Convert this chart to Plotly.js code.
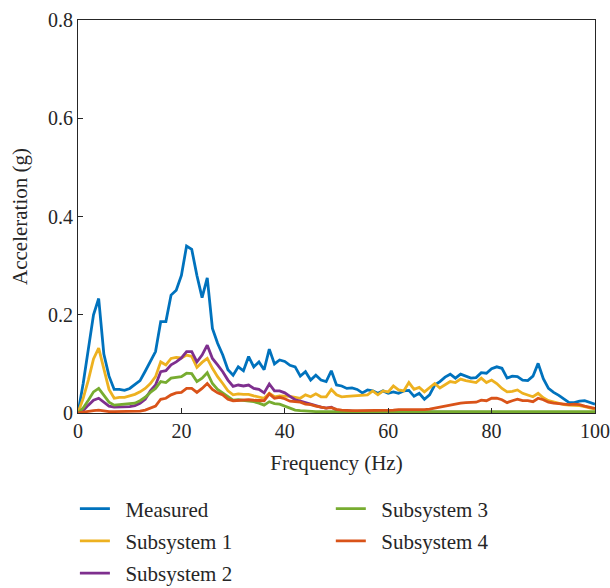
<!DOCTYPE html>
<html>
<head>
<meta charset="utf-8">
<script src="https://cdn.plot.ly/plotly-3.0.1.min.js"></script>
<style>html,body{margin:0;padding:0;background:#fff;}#chart{width:610px;height:588px;}</style>
</head>
<body>
<div id="chart"></div>
<script>
// Frequency axis (Hz), 1 Hz steps 0..100
const freq = Array.from({length: 101}, (_, i) => i);

const measured = [0,0.06,0.13,0.20,0.233,0.12,0.075,0.048,0.048,0.046,
0.050,0.058,0.066,0.085,0.105,0.125,0.186,0.186,0.24,0.25,
0.28,0.34,0.333,0.28,0.235,0.275,0.172,0.142,0.118,0.088,
0.077,0.094,0.086,0.115,0.094,0.104,0.088,0.13,0.10,0.108,
0.105,0.097,0.094,0.075,0.084,0.067,0.077,0.067,0.064,0.086,
0.057,0.055,0.050,0.051,0.048,0.041,0.047,0.045,0.040,0.045,
0.040,0.043,0.040,0.045,0.046,0.034,0.040,0.028,0.037,0.057,
0.064,0.073,0.079,0.071,0.079,0.075,0.071,0.072,0.082,0.081,
0.090,0.094,0.091,0.071,0.075,0.074,0.067,0.066,0.075,0.101,
0.070,0.050,0.042,0.036,0.028,0.021,0.021,0.024,0.025,0.021,0.018];

const sub1 = [0,0.03,0.067,0.11,0.132,0.09,0.048,0.030,0.032,0.032,
0.035,0.038,0.043,0.050,0.060,0.074,0.104,0.098,0.111,0.113,
0.112,0.118,0.115,0.093,0.103,0.111,0.091,0.074,0.060,0.045,
0.037,0.039,0.038,0.038,0.035,0.033,0.030,0.040,0.033,0.035,
0.035,0.034,0.032,0.030,0.037,0.033,0.039,0.033,0.033,0.048,
0.037,0.033,0.034,0.035,0.036,0.037,0.037,0.045,0.037,0.045,
0.043,0.055,0.047,0.045,0.062,0.048,0.052,0.043,0.052,0.060,
0.051,0.058,0.064,0.062,0.069,0.066,0.064,0.062,0.071,0.062,
0.067,0.060,0.050,0.043,0.044,0.047,0.040,0.037,0.033,0.040,
0.031,0.025,0.022,0.019,0.017,0.016,0.016,0.015,0.013,0.011,0.008];

const sub2 = [0,0.005,0.016,0.026,0.030,0.021,0.014,0.012,0.012,0.012,
0.013,0.015,0.020,0.028,0.045,0.057,0.084,0.086,0.098,0.104,
0.112,0.125,0.125,0.104,0.118,0.138,0.111,0.098,0.084,0.067,
0.054,0.057,0.055,0.057,0.050,0.048,0.041,0.059,0.045,0.045,
0.041,0.034,0.027,0.024,0.021,0.017,0.014,0.012,0.010,0.012,
0.006,0.005,0.004,0.003,0.002,0.002,0.002,0.002,0.002,0.002,
0.001,0.001,0.001,0.001,0.001,0.001,0.001,0.001,0.001,0.001,
0.001,0.001,0.001,0.001,0.001,0.001,0.001,0.001,0.001,0.001,
0.001,0.001,0.001,0.001,0.001,0.001,0.001,0.001,0.001,0.001,
0.001,0.001,0.001,0.001,0.001,0.001,0.001,0.001,0.001,0.001,0.001];

const sub3 = [0,0.01,0.026,0.043,0.050,0.036,0.022,0.016,0.017,0.017,
0.018,0.020,0.025,0.032,0.042,0.050,0.064,0.062,0.071,0.073,
0.074,0.081,0.080,0.064,0.071,0.082,0.060,0.048,0.041,0.033,
0.026,0.027,0.026,0.025,0.023,0.020,0.016,0.023,0.019,0.018,
0.014,0.009,0.006,0.005,0.004,0.004,0.003,0.003,0.003,0.003,
0.003,0.003,0.003,0.003,0.003,0.003,0.003,0.003,0.003,0.003,
0.003,0.003,0.003,0.003,0.003,0.003,0.003,0.003,0.003,0.003,
0.003,0.003,0.003,0.003,0.003,0.003,0.003,0.003,0.003,0.003,
0.003,0.003,0.003,0.003,0.003,0.003,0.003,0.003,0.003,0.003,
0.003,0.003,0.003,0.003,0.003,0.003,0.003,0.003,0.003,0.003,0.003];

const sub4 = [0,0.002,0.003,0.005,0.006,0.004,0.003,0.003,0.003,0.003,
0.003,0.003,0.004,0.006,0.010,0.014,0.028,0.030,0.037,0.041,
0.042,0.050,0.050,0.042,0.050,0.060,0.048,0.041,0.037,0.028,
0.025,0.026,0.027,0.027,0.026,0.025,0.025,0.039,0.030,0.032,
0.029,0.024,0.023,0.022,0.018,0.017,0.014,0.012,0.010,0.011,
0.0075,0.006,0.005,0.005,0.005,0.005,0.005,0.005,0.006,0.006,
0.006,0.006,0.007,0.007,0.006,0.006,0.006,0.007,0.008,0.010,
0.012,0.015,0.017,0.019,0.020,0.021,0.021,0.022,0.026,0.025,
0.030,0.030,0.027,0.021,0.025,0.028,0.025,0.025,0.023,0.030,
0.027,0.022,0.020,0.019,0.017,0.017,0.018,0.017,0.014,0.012,0.0095];

const seriesNames = ["Measured", "Subsystem 1", "Subsystem 2", "Subsystem 3", "Subsystem 4"];
const xTicks = [0, 20, 40, 60, 80, 100];
const yTicks = [0, 0.2, 0.4, 0.6, 0.8];
const yTickText = ["0", "0.2", "0.4", "0.6", "0.8"];

const colors = ["#0072BD", "#EDB120", "#7E2F8E", "#77AC30", "#D95319"];
const legends = ["legend", "legend", "legend", "legend2", "legend2"];
const dataSets = [measured, sub1, sub2, sub3, sub4];
const PAD = "\u00a0\u00a0"; // extra gap between legend line and label

const traces = dataSets.map((d, i) => ({
  x: freq, y: d, type: "scatter", mode: "lines",
  name: PAD + seriesNames[i],
  line: {color: colors[i], width: 2.8},
  legend: legends[i],
  legendgroup: "g" + i
}));

const FONT = "Liberation Serif";
const axisCol = "#262626";

const legendCommon = {
  orientation: "v", xanchor: "left", yanchor: "top",
  traceorder: "grouped", tracegroupgap: 2,
  font: {family: FONT, size: 21, color: "#262626"},
  bgcolor: "rgba(0,0,0,0)"
};

const layout = {
  width: 610, height: 588,
  margin: {l: 78, r: 15, t: 20, b: 175, autoexpand: false},
  paper_bgcolor: "#fff", plot_bgcolor: "#fff",
  font: {family: FONT, size: 20, color: "#262626"},
  showlegend: true,
  xaxis: {
    range: [0, 100], tickvals: xTicks, ticktext: xTicks.map(String),
    ticks: "inside", ticklen: 5, tickcolor: axisCol, tickwidth: 1,
    showline: true, linecolor: axisCol, linewidth: 1, mirror: true,
    showgrid: false, zeroline: false,
    tickfont: {family: FONT, size: 20, color: "#262626"},
    title: {text: "Frequency (Hz)", font: {family: FONT, size: 21, color: "#262626"}, standoff: 14}
  },
  yaxis: {
    range: [0, 0.8], tickvals: yTicks, ticktext: yTickText,
    ticks: "inside", ticklen: 5, tickcolor: axisCol, tickwidth: 1,
    showline: true, linecolor: axisCol, linewidth: 1, mirror: true,
    showgrid: false, zeroline: false,
    tickfont: {family: FONT, size: 20, color: "#262626"},
    title: {text: "Acceleration (g)", font: {family: FONT, size: 21, color: "#262626"}, standoff: 14}
  },
  legend: Object.assign({}, legendCommon, {x: -0.006, y: -0.192}),
  legend2: Object.assign({}, legendCommon, {x: 0.489, y: -0.192})
};

Plotly.newPlot("chart", traces, layout, {staticPlot: true, displayModeBar: false});
</script>
</body>
</html>
